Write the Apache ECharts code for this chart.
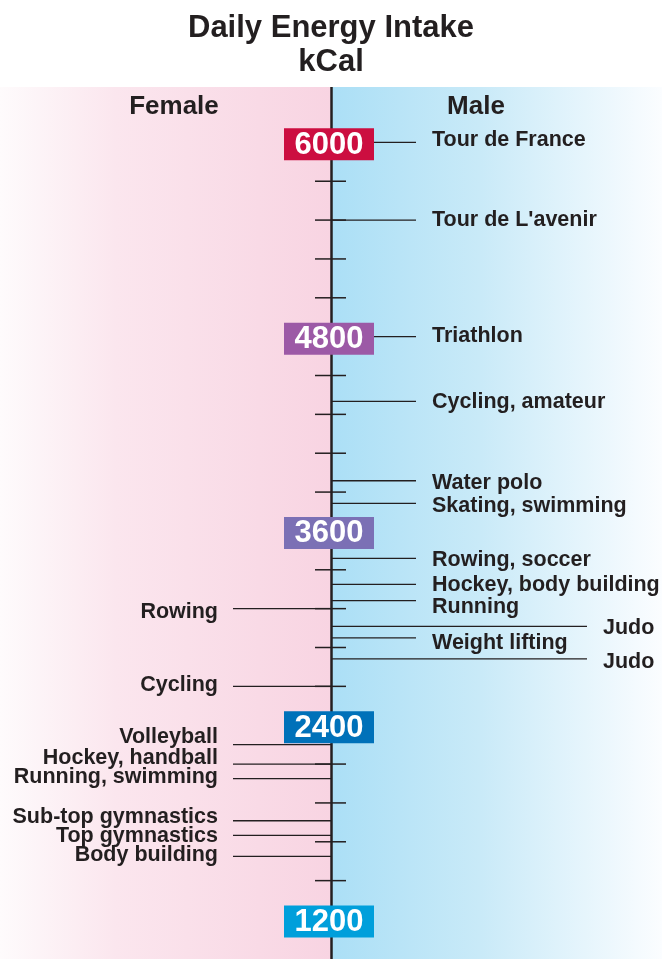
<!DOCTYPE html>
<html>
<head>
<meta charset="utf-8">
<script src="https://cdn.jsdelivr.net/npm/echarts@6/dist/echarts.min.js"></script>
<style>
  html, body { margin: 0; padding: 0; background: #ffffff; }
  #chart { width: 662px; height: 959px; }
</style>
</head>
<body>
<div id="chart"></div>
<script>
// Daily energy intake (kcal) per sport, men on the right, women on the left
const maleSports = ['Tour de France', "Tour de L'avenir", 'Triathlon', 'Cycling, amateur',
  'Water polo', 'Skating, swimming', 'Rowing, soccer', 'Hockey, body building',
  'Running', 'Judo', 'Weight lifting', 'Judo'];
const maleKcal = [6000, 5520, 4800, 4400, 3910, 3770, 3430, 3270, 3170, 3010, 2940, 2810];

const femaleSports = ['Rowing', 'Cycling', 'Volleyball', 'Hockey, handball',
  'Running, swimming', 'Sub-top gymnastics', 'Top gymnastics', 'Body building'];
const femaleKcal = [3120, 2640, 2280, 2160, 2070, 1810, 1720, 1590];

// Scale markers and minor ticks
const scaleValues = [1200, 2400, 3600, 4800, 6000];
const scaleColors = ['#009fdb', '#0071b9', '#7b70b5', '#9c59a6', '#cc0e40'];
const tickValues = [1440, 1680, 1920, 2160, 2640, 2880, 3120, 3360,
  3840, 4080, 4320, 4560, 5040, 5280, 5520, 5760];

// Vertical label nudges (px) so neighbouring names don't collide
const maleNudge = [-2, 0, -1, 1, 2, 3, 2, 1, 7, 2, 5, 3];
const femaleNudge = [3, -1, -8, -6, -2, -4, 1, -1];
// Leaders that run out past the other labels
const longLeader = [false, false, false, false, false, false, false, false, false, true, false, true];

const INK = '#231f20';
const FONT = '"Liberation Sans", Arial, Helvetica, sans-serif';

const chart = echarts.init(document.getElementById('chart'), null, { renderer: 'canvas' });

function axisX(api) { return api.coord([0, 0])[0]; }

const option = {
  animation: false,
  title: {
    text: 'Daily Energy Intake\nkCal',
    left: 'center',
    top: 6,
    textStyle: { fontFamily: FONT, fontWeight: 'bold', fontSize: 31, lineHeight: 34, color: INK, align: 'center' }
  },
  grid: { left: 0, right: 0, top: 87, bottom: 0 },
  xAxis: { type: 'value', min: -331, max: 331, show: false },
  yAxis: { type: 'value', min: 956, max: 6342, show: false },
  series: [
    // two-tone backdrop
    {
      type: 'custom', z: 1, silent: true,
      data: [0],
      renderItem: function (params, api) {
        const cs = params.coordSys;
        const cx = axisX(api);
        return {
          type: 'group',
          children: [
            {
              type: 'rect',
              shape: { x: cs.x, y: cs.y, width: cx - cs.x, height: cs.height },
              style: { fill: new echarts.graphic.LinearGradient(0, 0, 1, 0, [
                { offset: 0, color: '#fefbfc' }, { offset: 0.35, color: '#fbe6ee' }, { offset: 1, color: '#f8d4e2' }]) }
            },
            {
              type: 'rect',
              shape: { x: cx, y: cs.y, width: cs.x + cs.width - cx, height: cs.height },
              style: { fill: new echarts.graphic.LinearGradient(0, 0, 1, 0, [
                { offset: 0, color: '#abdff6' }, { offset: 0.45, color: '#c9eaf8' }, { offset: 1, color: '#fbfdff' }]) }
            },
            {
              type: 'text',
              style: { x: 174, y: cs.y + 20, text: 'Female', align: 'center', verticalAlign: 'middle',
                font: 'bold 26px ' + FONT, fill: INK }
            },
            {
              type: 'text',
              style: { x: 476, y: cs.y + 20, text: 'Male', align: 'center', verticalAlign: 'middle',
                font: 'bold 26px ' + FONT, fill: INK }
            }
          ]
        };
      }
    },
    // minor ticks
    {
      type: 'custom', z: 2, silent: true,
      data: tickValues.map(v => [0, v]),
      renderItem: function (params, api) {
        const p = api.coord([0, api.value(1)]);
        return {
          type: 'line',
          shape: { x1: p[0] - 16, y1: p[1], x2: p[0] + 15, y2: p[1] },
          style: { stroke: INK, lineWidth: 1.5 }
        };
      }
    },
    // men's leaders and names
    {
      type: 'custom', z: 3, silent: true,
      data: maleKcal.map((v, i) => [0, v, i]),
      renderItem: function (params, api) {
        const i = api.value(2);
        const p = api.coord([0, api.value(1)]);
        const end = longLeader[i] ? 256 : 85;
        return {
          type: 'group',
          children: [
            { type: 'line', shape: { x1: p[0], y1: p[1], x2: p[0] + end, y2: p[1] },
              style: { stroke: INK, lineWidth: 1.3 } },
            { type: 'text', style: { x: p[0] + end + 16, y: p[1] + maleNudge[i], text: maleSports[i],
              align: 'left', verticalAlign: 'middle', font: 'bold 21.5px ' + FONT, fill: INK } }
          ]
        };
      }
    },
    // women's leaders and names
    {
      type: 'custom', z: 3, silent: true,
      data: femaleKcal.map((v, i) => [0, v, i]),
      renderItem: function (params, api) {
        const i = api.value(2);
        const p = api.coord([0, api.value(1)]);
        return {
          type: 'group',
          children: [
            { type: 'line', shape: { x1: p[0] - 98, y1: p[1], x2: p[0], y2: p[1] },
              style: { stroke: INK, lineWidth: 1.3 } },
            { type: 'text', style: { x: p[0] - 113, y: p[1] + femaleNudge[i], text: femaleSports[i],
              align: 'right', verticalAlign: 'middle', font: 'bold 21.5px ' + FONT, fill: INK } }
          ]
        };
      }
    },
    // central axis
    {
      type: 'custom', z: 4, silent: true,
      data: [0],
      renderItem: function (params, api) {
        const cs = params.coordSys;
        const cx = axisX(api) + 0.5;
        return {
          type: 'line',
          shape: { x1: cx, y1: cs.y, x2: cx, y2: cs.y + cs.height },
          style: { stroke: INK, lineWidth: 2.5 }
        };
      }
    },
    // coloured scale boxes
    {
      type: 'custom', z: 5, silent: true,
      data: scaleValues.map((v, i) => [0, v, i]),
      renderItem: function (params, api) {
        const i = api.value(2);
        const v = api.value(1);
        const p = api.coord([0, v]);
        const cy = p[1] + 2;
        return {
          type: 'group',
          children: [
            { type: 'rect', shape: { x: p[0] - 47, y: cy - 16, width: 90, height: 32 },
              style: { fill: scaleColors[i] } },
            { type: 'text', style: { x: p[0] - 2, y: cy + 1, text: String(v), align: 'center',
              verticalAlign: 'middle', font: 'bold 31px ' + FONT, fill: '#ffffff' } }
          ]
        };
      }
    }
  ]
};

chart.setOption(option);
</script>
</body>
</html>
